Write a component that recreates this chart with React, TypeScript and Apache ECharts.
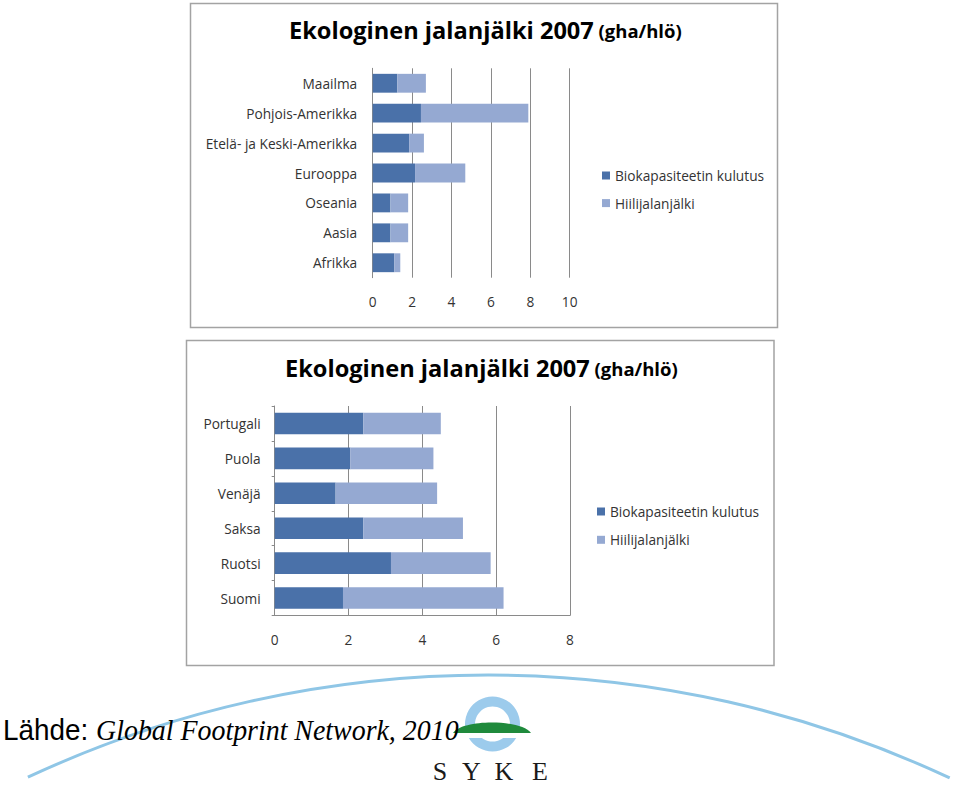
import React, { useEffect, useRef } from 'react';
import * as echarts from 'echarts';

// ---------- data ----------
const topCategories = ['Maailma', 'Pohjois-Amerikka', 'Etelä- ja Keski-Amerikka', 'Eurooppa', 'Oseania', 'Aasia', 'Afrikka'];
const topBio = [1.25, 2.45, 1.85, 2.15, 0.9, 0.9, 1.1];
const topCarbon = [1.45, 5.45, 0.75, 2.55, 0.9, 0.9, 0.3];
const topAxisMax = 10;

const bottomCategories = ['Portugali', 'Puola', 'Venäjä', 'Saksa', 'Ruotsi', 'Suomi'];
const bottomBio = [2.4, 2.05, 1.65, 2.4, 3.15, 1.85];
const bottomCarbon = [2.1, 2.25, 2.75, 2.7, 2.7, 4.35];
const bottomAxisMax = 8;

const tickStep = 2;
const seriesNames = ['Biokapasiteetin kulutus', 'Hiilijalanjälki'];
const titleMain = 'Ekologinen jalanjälki 2007';
const titleUnit = '(gha/hlö)';
const sourceLabel = 'Lähde:';
const sourceName = 'Global Footprint Network, 2010';
const logoLetters = ['S', 'Y', 'K', 'E'];

// ---------- styles ----------
const DARK = '#4a71a9';
const LIGHT = '#95a9d2';
const GRID = '#8a8a8a';
const LABEL = '#333333';
const FONT = 'Open Sans';
const FS = 13.7;

try {
  echarts.graphic.registerShape(
    'sykeHill',
    echarts.graphic.extendPath('M453 733 C462 719 521 719 531 733 Z', {})
  );
} catch (e) {
  // ignore
}

export default function App() {
  const ref = useRef<HTMLDivElement>(null);

  useEffect(() => {
    if (!ref.current) return;
    const chart = echarts.init(ref.current, undefined, { renderer: 'svg' });

    const titleRich = {
      m: { fontSize: 23.6, fontWeight: 'bold', color: '#000', fontFamily: FONT },
      u: { fontSize: 18.5, fontWeight: 'bold', color: '#000', fontFamily: FONT },
    };

    const valueAxis = (grid: number, max: number, showLine: boolean) => ({
      gridIndex: grid,
      type: 'value',
      min: 0,
      max,
      interval: tickStep,
      axisLine: { show: showLine, lineStyle: { color: GRID, width: 1 } },
      axisTick: { show: false },
      splitLine: { show: true, lineStyle: { color: GRID, width: 1 } },
      axisLabel: { margin: 17, fontSize: FS, color: LABEL, fontFamily: FONT },
    });

    const catAxis = (grid: number, data: string[], margin: number, tick: boolean) => ({
      gridIndex: grid,
      type: 'category',
      data,
      inverse: true,
      axisLine: { show: true, lineStyle: { color: GRID, width: 1 } },
      axisTick: { show: tick, length: 3, lineStyle: { color: GRID } },
      axisLabel: { margin, fontSize: FS, color: LABEL, fontFamily: FONT },
    });

    const legend = (left: number, top: number, gap: number) => ({
      data: seriesNames,
      orient: 'vertical',
      left,
      top,
      padding: 0,
      itemWidth: 8,
      itemHeight: 8,
      itemGap: gap,
      icon: 'rect',
      selectedMode: false,
      textStyle: { fontSize: FS, color: LABEL, fontFamily: FONT, lineHeight: 16 },
    });

    const option: any = {
      animation: false,
      backgroundColor: '#ffffff',
      textStyle: { fontFamily: FONT },
      title: [
        {
          text: `{m|${titleMain}} {u|${titleUnit}}`,
          left: 289,
          top: 18,
          padding: 0,
          textStyle: { rich: titleRich },
        },
        {
          text: `{m|${titleMain}} {u|${titleUnit}}`,
          left: 285,
          top: 356,
          padding: 0,
          textStyle: { rich: titleRich },
        },
      ],
      grid: [
        { left: 372.7, top: 68.3, width: 197, height: 209.4, containLabel: false },
        { left: 274.7, top: 406, width: 295.3, height: 209.5, containLabel: false },
      ],
      xAxis: [valueAxis(0, topAxisMax, false), valueAxis(1, bottomAxisMax, true)],
      yAxis: [catAxis(0, topCategories, 15.5, false), catAxis(1, bottomCategories, 14, true)],
      legend: [legend(602, 167.5, 11.6), legend(597, 503.5, 12.3)],
      series: [
        {
          name: seriesNames[0], type: 'bar', stack: 'top', xAxisIndex: 0, yAxisIndex: 0,
          data: topBio, itemStyle: { color: DARK }, barCategoryGap: '37%',
        },
        {
          name: seriesNames[1], type: 'bar', stack: 'top', xAxisIndex: 0, yAxisIndex: 0,
          data: topCarbon, itemStyle: { color: LIGHT }, barCategoryGap: '37%',
        },
        {
          name: seriesNames[0], type: 'bar', stack: 'bottom', xAxisIndex: 1, yAxisIndex: 1,
          data: bottomBio, itemStyle: { color: DARK }, barCategoryGap: '38%',
        },
        {
          name: seriesNames[1], type: 'bar', stack: 'bottom', xAxisIndex: 1, yAxisIndex: 1,
          data: bottomCarbon, itemStyle: { color: LIGHT }, barCategoryGap: '38%',
        },
      ],
      graphic: [
        {
          type: 'rect', z: -10, silent: true,
          shape: { x: 190.5, y: 3.5, width: 587, height: 324 },
          style: { fill: 'none', stroke: '#a3a3a3', lineWidth: 1.5 },
        },
        {
          type: 'rect', z: -10, silent: true,
          shape: { x: 186.5, y: 340.5, width: 587.5, height: 325 },
          style: { fill: 'none', stroke: '#a3a3a3', lineWidth: 1.5 },
        },
        {
          type: 'arc', silent: true, z: -5,
          shape: { cx: 488, cy: 1761.7, r: 1086.7, startAngle: -2.008, endAngle: -1.132, clockwise: true },
          style: { fill: 'none', stroke: '#8fc6e6', lineWidth: 3 },
        },
        {
          type: 'ring', silent: true,
          shape: { cx: 492.5, cy: 724, r: 27.5, r0: 17.5 },
          style: { fill: '#9ccbec' },
        },
        {
          type: 'rect', silent: true,
          shape: { x: 462, y: 732.5, width: 62, height: 5.5 },
          style: { fill: '#ffffff' },
        },
        {
          type: 'sykeHill', silent: true, x: 0, y: 0,
          style: { fill: '#1f8a3c' },
        },
        ...logoLetters.map((ch, i) => ({
          type: 'text', silent: true,
          x: [440, 471.5, 504, 540][i],
          y: 771,
          style: {
            text: ch, fontFamily: 'Liberation Serif', fontSize: 26, fill: '#1a1a1a',
            align: 'center', verticalAlign: 'middle',
          },
        })),
        {
          type: 'text', silent: true, x: 3, y: 730, scaleX: 0.93, scaleY: 1,
          style: {
            text: `{a|${sourceLabel} }{b|${sourceName}}`,
            verticalAlign: 'middle',
            rich: {
              a: { fontFamily: 'Liberation Sans', fontSize: 30, fill: '#000', color: '#000' },
              b: { fontFamily: 'Liberation Serif', fontStyle: 'italic', fontSize: 30, fill: '#000', color: '#000' },
            },
          },
        },
      ],
    };

    chart.setOption(option);
    return () => chart.dispose();
  }, []);

  return (
    <div
      ref={ref}
      style={{ position: 'fixed', left: 0, top: 0, width: 960, height: 787, background: '#fff' }}
    />
  );
}
